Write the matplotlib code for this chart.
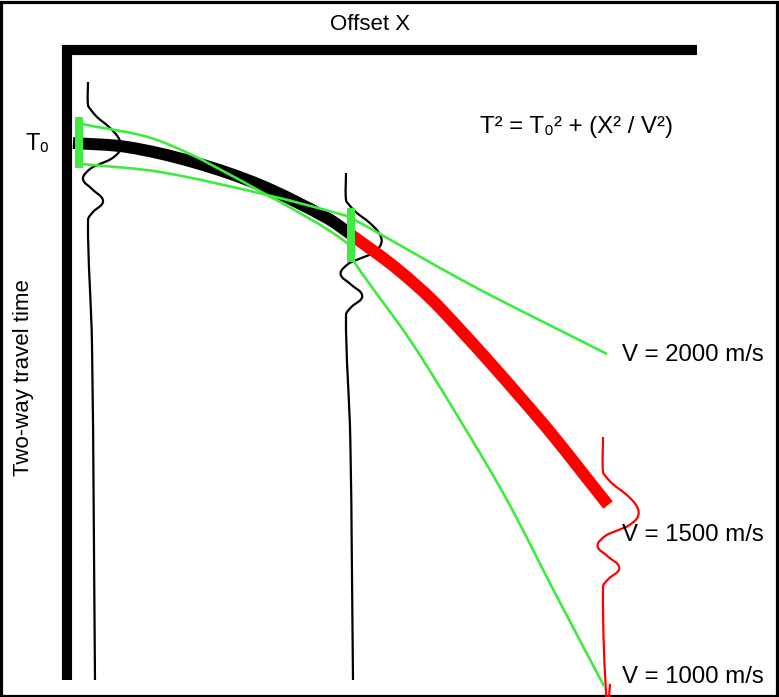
import matplotlib
matplotlib.use('Agg')
import numpy as np
import matplotlib.pyplot as plt
from matplotlib.path import Path
from matplotlib.patches import PathPatch, Rectangle

plt.rcParams['font.family'] = ['Liberation Sans', 'DejaVu Sans']

# canvas units: offset to the right, two-way time downwards
event_black_x = [73, 127, 193, 260, 327, 352]
event_black_t = [143, 147, 162, 185, 218, 235]
event_red_x = [350, 396, 440, 540, 608]
event_red_t = [234, 268, 308, 420, 505]

v1000_x = [82, 160, 267, 347, 353, 410, 460, 507, 555, 604]
v1000_t = [124, 141, 195, 243, 260, 340, 420, 500, 593, 686]
v2000_x = [82, 160, 267, 347, 355, 373, 473, 607]
v2000_t = [164, 172, 195, 216, 220, 230, 286, 354]

# shared wavelet: time relative to the peak, deflection to the right
wavelet_dt = [-40, -35, -28, -18, -8, 0, 7, 14, 19, 24, 34, 44, 56, 67, 75, 200]
wavelet_amp = [0, 3, 9, 21, 30, 33, 31, 23, 12, 2, -5, 4, 15, 5, 0, 4]

# traces: baseline offset, peak time, top, bottom, amplitude scale
trace_base = [88, 346, 603]
trace_peak = [145, 240, 512]
trace_top = [82, 173, 437]
trace_bottom = [680, 680, 684]
trace_scale = [1.0, 1.08, 1.08]
trace_color = ['black', 'black', 'red']

# velocity picking windows (offset, time top, time bottom)
window_x = [79, 351]
window_top = [117, 208]
window_bottom = [168, 262]

vel_labels = ['V = 2000 m/s', 'V = 1500 m/s', 'V = 1000 m/s']
vel_label_t = [355, 535, 677]

GREEN = '#40ea40'


def smooth_path(xs, ys):
    # cubic Bezier through the points; handles follow the neighbour chord
    # and are scaled by the segment length so short steps do not overshoot
    pts = np.column_stack([xs, ys]).astype(float)
    n = len(pts)
    tang = []
    for i in range(n):
        d = pts[min(i + 1, n - 1)] - pts[max(i - 1, 0)]
        tang.append(d / np.hypot(*d))
    verts = [tuple(pts[0])]
    codes = [Path.MOVETO]
    for i in range(n - 1):
        seg = np.hypot(*(pts[i + 1] - pts[i])) / 3
        verts += [tuple(pts[i] + tang[i] * seg),
                  tuple(pts[i + 1] - tang[i + 1] * seg),
                  tuple(pts[i + 1])]
        codes += [Path.CURVE4] * 3
    return Path(verts, codes)


def draw_curve(ax, xs, ys, **kw):
    patch = PathPatch(smooth_path(xs, ys), fill=False, **kw)
    ax.add_patch(patch)


fig = plt.figure(figsize=(7.79, 6.97), dpi=100)
ax = fig.add_axes([0, 0, 1, 1])
ax.set_xlim(0, 779)
ax.set_ylim(697, 0)
ax.axis('off')

# outer frame
ax.add_patch(Rectangle((1.5, 1.5), 776, 694, fill=False, lw=2.3, ec='black'))

# offset / time axes
ax.plot([67, 67, 697], [680, 50, 50], color='black', lw=7.3,
        solid_joinstyle='miter', solid_capstyle='butt')

# seismic traces
for base, peak, top, bottom, sc, col in zip(trace_base, trace_peak, trace_top,
                                            trace_bottom, trace_scale, trace_color):
    xs = [base] + [base + a * sc for a in wavelet_amp] + [base + 7]
    ts = [top] + [peak + d for d in wavelet_dt] + [bottom]
    draw_curve(ax, xs, ts, color=col, lw=1.6, capstyle='butt')

# reflection event
draw_curve(ax, event_black_x, event_black_t, color='black', lw=8.6, capstyle='butt')
draw_curve(ax, event_red_x, event_red_t, color='red', lw=8.6, capstyle='butt')

# trial velocity curves
draw_curve(ax, v1000_x, v1000_t, color=GREEN, lw=1.9)
draw_curve(ax, v2000_x, v2000_t, color=GREEN, lw=1.9)

for wx, wt, wb in zip(window_x, window_top, window_bottom):
    ax.add_patch(Rectangle((wx - 4, wt), 8, wb - wt, color=GREEN, lw=0))

# labels
ax.text(370, 24, 'Offset X', fontsize=16, ha='center', va='center')
ax.text(24, 378, 'Two-way travel time', fontsize=16, rotation=90,
        ha='center', va='center')
ax.text(26, 144, 'T\u2080', fontsize=17, ha='left', va='center')
ax.text(480, 127, 'T\u00b2 = T\u2080\u00b2 + (X\u00b2 / V\u00b2)',
        fontsize=17.3, ha='left', va='center')
for lab, t in zip(vel_labels, vel_label_t):
    ax.text(622, t, lab, fontsize=17.3, ha='left', va='center')

fig.savefig('out.png', dpi=100)
